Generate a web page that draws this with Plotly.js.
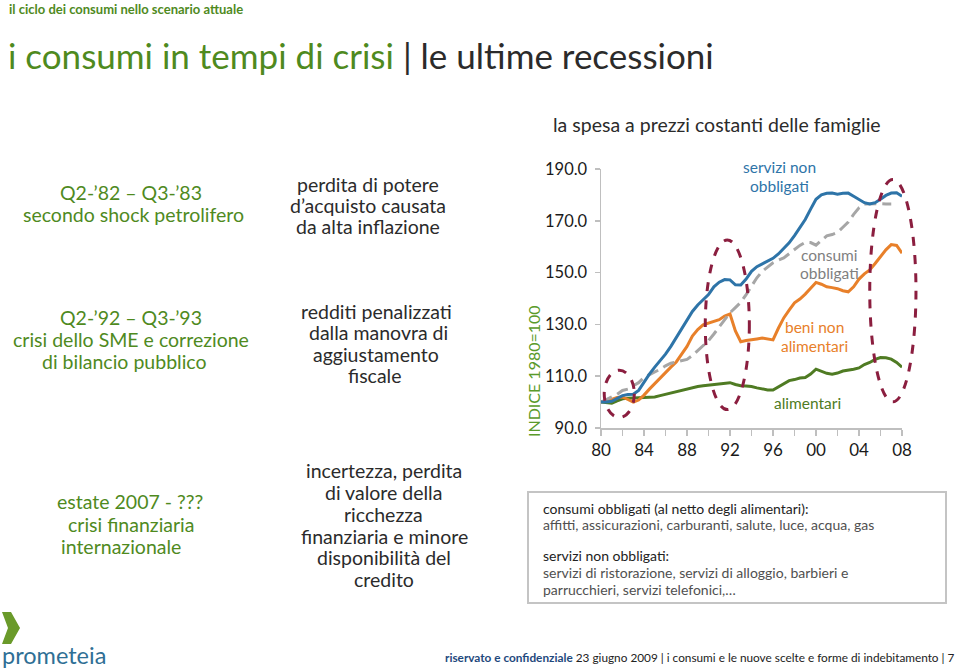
<!DOCTYPE html>
<html>
<head>
<meta charset="utf-8">
<script src="https://cdn.plot.ly/plotly-3.0.1.min.js"></script>
<style>
html,body{margin:0;padding:0;background:#fff;}
#chart{width:959px;height:671px;}
</style>
</head>
<body>
<div id="chart"></div>
<script>
// ---- data ----
const years = [1980,1980.5,1981,1981.5,1982,1982.5,1983,1983.5,1984,1984.5,1985,1985.5,1986,1986.5,1987,1987.5,1988,1988.5,1989,1989.5,1990,1990.5,1991,1991.5,1992,1992.5,1993,1993.5,1994,1994.5,1995,1995.5,1996,1996.5,1997,1997.5,1998,1998.5,1999,1999.5,2000,2000.5,2001,2001.5,2002,2002.5,2003,2003.5,2004,2004.5,2005,2005.5,2006,2006.5,2007,2007.5,2008];

const serviziNonObbligati = [100,100,100.3,101.5,102.5,102.9,103,104.5,107.8,110.8,113.5,116,118.5,121.5,125,128.5,132,135,137.5,139.5,141.5,144.5,146.3,147.3,147.2,145.3,145.2,147.5,150.5,152.3,153.3,154.3,155.5,157.2,159.2,161.5,164.3,167.3,170.5,174.5,178.3,180,180.6,180.7,180.3,180.6,180.7,179.5,178.2,177,176.5,177,178.3,179.8,180.7,180.8,179.5];

const consumiObbligati = [100,101,102,103,104.5,105,106.3,107.5,109.5,110.5,111.7,112.7,114,115,115.5,116,116.5,118,120,122,123.7,126.3,129,132,134.5,136.5,138.5,141.5,145,148,150.5,152,153.8,154.8,155.7,157.3,159,160.5,161.7,161.6,160.6,162.3,164.2,164.7,165.5,167.5,169.5,172.5,175,176.5,176.6,176.6,176.6,176.5,176.5,null,null];

const beniNonAlimentari = [100,100.5,101,101.8,102,101,100,100.8,102.7,105,107.2,109.5,111.7,113.5,115.5,118.5,121.5,125.5,128,129.8,130.4,131,131.8,133.2,134,127.5,123.3,123.8,124.2,124.4,124.7,124.2,124,128.5,132.5,135.5,138.3,139.8,141.7,144,146.2,145.5,144.5,144.2,143.8,143,142.6,144.5,147.5,149.5,151,153.5,156.2,158.8,160.8,160.5,157.5];

const alimentari = [100,99.7,99.6,100.5,101.3,101.5,101.6,101.7,101.8,101.9,102,102.5,103,103.5,104,104.6,105.2,105.7,106,106.3,106.5,106.8,107.1,107.3,107.5,106.8,106.3,106.2,106,105.5,105,104.7,104.7,106,107.3,108.3,108.7,109.3,109.5,110.8,112.7,112,111.1,110.8,111.2,112,112.3,112.7,113.2,114.5,115.3,116.5,117.2,117.1,116.6,115.3,113.5];

const xTickVals = [1980,1984,1988,1992,1996,2000,2004,2008];
const xTickText = ['80','84','88','92','96','00','04','08'];
const yTickVals = [90,110,130,150,170,190];

// crisis windows (circled periods)
const crisisX0 = [1980.3,1989.7,2005.0];
const crisisX1 = [1983.1,1993.8,2009.3];
const crisisY0 = [94.1,97.1,100.1];
const crisisY1 = [112.3,162.6,185.9];

// ---- layout helpers ----
const L=601, R=902, T=169, B=428, W=959, H=671;
const fx = px => (px-L)/(R-L);
const fy = py => (B-py)/(B-T);
const FONT = 'Lato, "Open Sans", sans-serif';
const GREEN_T = '#4f8a1e', DARK = '#2b2b2b';

const ann = [];
function txt(x, y, text, size, color, xanchor, extra){
  ann.push(Object.assign({
    xref:'paper', yref:'paper', x:fx(x), y:fy(y), text:text, showarrow:false,
    xanchor:xanchor||'center', yanchor:'middle',
    font:{family:FONT, size:size, color:color}
  }, extra||{}));
}

// header
txt(7, 9, '<b>il ciclo dei consumi nello scenario attuale</b>', 13, GREEN_T, 'left');
txt(6, 55, '<span style="color:#4f8a1e">i consumi in tempi di crisi</span><span style="color:#2b2b2b"> | le ultime recessioni</span>', 35, GREEN_T, 'left');
txt(717, 125, 'la spesa a prezzi costanti delle famiglie', 19.5, DARK);

// left column (green)
txt(131, 192, 'Q2-’82 – Q3-’83', 19.5, GREEN_T);
txt(133, 214, 'secondo shock petrolifero', 19.5, GREEN_T);
txt(131, 317, 'Q2-’92 – Q3-’93', 19.5, GREEN_T);
txt(131, 339, 'crisi dello SME e correzione', 19.5, GREEN_T);
txt(124, 361, 'di bilancio pubblico', 19.5, GREEN_T);
txt(130, 502, 'estate 2007 - ???', 19.5, GREEN_T);
txt(131, 524, 'crisi finanziaria', 19.5, GREEN_T);
txt(121, 546, 'internazionale', 19.5, GREEN_T);

// middle column (dark)
txt(368, 184, 'perdita di potere', 19.5, DARK);
txt(368, 205, 'd’acquisto causata', 19.5, DARK);
txt(368, 226, 'da alta inflazione', 19.5, DARK);
txt(376, 311, 'redditi penalizzati', 19.5, DARK);
txt(378, 332, 'dalla manovra di', 19.5, DARK);
txt(376, 354, 'aggiustamento', 19.5, DARK);
txt(375, 375, 'fiscale', 19.5, DARK);
txt(384, 470, 'incertezza, perdita', 19.5, DARK);
txt(383, 492, 'di valore della', 19.5, DARK);
txt(383, 514, 'ricchezza', 19.5, DARK);
txt(384, 536, 'finanziaria e minore', 19.5, DARK);
txt(384, 557, 'disponibilità del', 19.5, DARK);
txt(384, 579, 'credito', 19.5, DARK);

// series labels inside the chart
txt(779, 167, 'servizi non', 15.5, '#2e74a8');
txt(779, 186, 'obbligati', 15.5, '#2e74a8');
txt(829, 255, 'consumi', 15.5, '#7f7f7f');
txt(829, 273, 'obbligati', 15.5, '#7f7f7f');
txt(814, 327, 'beni non', 15.5, '#e8802a');
txt(814, 346, 'alimentari', 15.5, '#e8802a');
txt(807, 403, 'alimentari', 15.5, '#4f7b23');

// y-axis title
txt(533, 371, 'INDICE 1980=100', 16, '#5a9a2a', 'center', {textangle:-90});

// note box texts
txt(541, 508, 'consumi obbligati (al netto degli alimentari):', 14, '#222', 'left');
txt(541, 524, 'affitti, assicurazioni, carburanti, salute, luce, acqua, gas', 14, '#505050', 'left');
txt(541, 555, 'servizi non obbligati:', 14, '#222', 'left');
txt(541, 572, 'servizi di ristorazione, servizi di alloggio, barbieri e', 14, '#505050', 'left');
txt(541, 589, 'parrucchieri, servizi telefonici,…', 14, '#505050', 'left');

// footer
txt(0, 655, 'prometeia', 23.5, '#2f6f95', 'left');
txt(957, 657, '<b><span style="color:#1f497d">riservato e confidenziale</span></b> 23 giugno 2009 | i consumi e le nuove scelte e forme di indebitamento | 7', 11.8, '#222', 'right');

// shapes
const shapes = [];
for (let i=0;i<crisisX0.length;i++){
  shapes.push({type:'circle', xref:'paper', yref:'paper', layer:'above',
    x0:(crisisX0[i]-1980)/28, x1:(crisisX1[i]-1980)/28,
    y0:(crisisY0[i]-90)/100, y1:(crisisY1[i]-90)/100,
    line:{color:'#8b1e3f', width:3, dash:'dash'}});
}
// note box
shapes.push({type:'rect', xref:'paper', yref:'paper', x0:fx(528), x1:fx(946), y0:fy(492), y1:fy(603),
  line:{color:'#c4c4c4', width:2}, fillcolor:'rgba(0,0,0,0)'});
// logo chevron
const P = (x,y)=> fx(x).toFixed(4)+','+fy(y).toFixed(4);
shapes.push({type:'path', xref:'paper', yref:'paper',
  path:'M'+P(2,612)+' L'+P(11,612)+' L'+P(20,628)+' L'+P(11,644)+' L'+P(2,644)+' L'+P(8,628)+' Z',
  fillcolor:'#6a9a2a', line:{width:0}});

const traces = [
  {x:years, y:alimentari, name:'alimentari', mode:'lines', line:{color:'#4f7b23', width:3}},
  {x:years, y:beniNonAlimentari, name:'beni non alimentari', mode:'lines', line:{color:'#e8802a', width:3}},
  {x:years, y:consumiObbligati, name:'consumi obbligati', mode:'lines', connectgaps:false, line:{color:'#a6a6a6', width:3, dash:'12px,6px'}},
  {x:years, y:serviziNonObbligati, name:'servizi non obbligati', mode:'lines', line:{color:'#2e74a8', width:3}}
];

const layout = {
  width:W, height:H,
  margin:{l:L, r:W-R, t:T, b:H-B, pad:0},
  paper_bgcolor:'#fff', plot_bgcolor:'#fff',
  showlegend:false,
  font:{family:FONT, color:'#1a1a1a'},
  xaxis:{range:[1980,2008], tickmode:'array', tickvals:xTickVals, ticktext:xTickText,
    showgrid:false, zeroline:false, showline:true, linecolor:'#bfbfbf', linewidth:1.5,
    ticks:'outside', ticklen:6, tickcolor:'#bfbfbf', tickwidth:1.5,
    ticklabelstandoff:0,
    minor:{tickmode:'linear', tick0:1980, dtick:2, ticks:'outside', ticklen:6, tickcolor:'#bfbfbf', tickwidth:1.5, showgrid:false},
    tickfont:{family:FONT, size:17, color:'#1a1a1a'}},
  yaxis:{range:[90,190], tickmode:'array', tickvals:yTickVals, tickformat:'.1f',
    showgrid:false, zeroline:false, showline:true, linecolor:'#bfbfbf', linewidth:1.5,
    ticks:'outside', ticklen:5, tickcolor:'#bfbfbf', tickwidth:1.5,
    ticklabelstandoff:4,
    tickfont:{family:FONT, size:16.5, color:'#1a1a1a'}},
  annotations:ann,
  shapes:shapes
};

Plotly.newPlot('chart', traces, layout, {staticPlot:true, displayModeBar:false});
</script>
</body>
</html>
